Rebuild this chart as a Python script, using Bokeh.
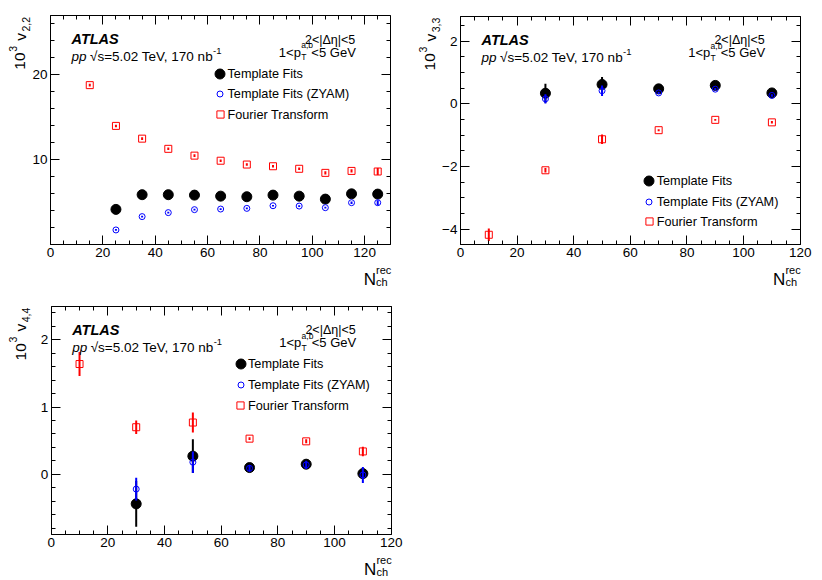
import numpy as np
from bokeh.plotting import figure
from bokeh.models import (Range1d, FixedTicker, LinearAxis, Label, Legend,
                          LegendItem, ColumnDataSource)
from bokeh.layouts import gridplot
from bokeh.embed import file_html
from bokeh.resources import INLINE

FONT = "Liberation Sans"

# ---------------- data ----------------
# Panel 1 : v2,2
x22_fourier = [15, 25, 35, 45, 55, 65, 75, 85, 95, 105, 115, 125]
fourier22 = [18.8, 14.0, 12.5, 11.3, 10.5, 9.9, 9.45, 9.25, 8.95, 8.47, 8.7, 8.63]
fourier22_err = [0.15, 0.15, 0.15, 0.15, 0.15, 0.15, 0.15, 0.15, 0.15, 0.2, 0.2, 0.4]
x22_templ = [25, 35, 45, 55, 65, 75, 85, 95, 105, 115, 125]
templ22 = [4.17, 5.9, 5.9, 5.85, 5.73, 5.66, 5.85, 5.73, 5.38, 6.0, 5.97]
templ22_err = [0.1, 0.1, 0.1, 0.1, 0.1, 0.1, 0.1, 0.1, 0.1, 0.15, 0.2]
zyam22 = [1.75, 3.32, 3.79, 4.14, 4.21, 4.29, 4.6, 4.56, 4.37, 4.96, 4.96]
zyam22_err = [0.1, 0.1, 0.1, 0.1, 0.1, 0.1, 0.1, 0.1, 0.1, 0.15, 0.3]

# Panel 2 : v3,3
x33_templ = [30, 50, 70, 90, 110]
templ33 = [0.34, 0.62, 0.48, 0.59, 0.35]
templ33_err = [0.3, 0.24, 0.05, 0.05, 0.05]
zyam33 = [0.16, 0.42, 0.35, 0.47, 0.27]
zyam33_err = [0.15, 0.17, 0.04, 0.04, 0.04]
x33_fourier = [10, 30, 50, 70, 90, 110]
fourier33 = [-4.18, -2.12, -1.13, -0.84, -0.51, -0.59]
fourier33_err = [0.2, 0.07, 0.15, 0.03, 0.03, 0.04]

# Panel 3 : v4,4
x44_templ = [30, 50, 70, 90, 110]
templ44 = [-0.44, 0.27, 0.10, 0.15, 0.01]
templ44_err = [0.34, 0.25, 0.06, 0.07, 0.07]
zyam44 = [-0.22, 0.18, 0.09, 0.14, -0.01]
zyam44_err = [0.17, 0.16, 0.05, 0.06, 0.12]
x44_fourier = [10, 30, 50, 70, 90, 110]
fourier44 = [1.64, 0.70, 0.77, 0.53, 0.49, 0.34]
fourier44_err = [0.18, 0.10, 0.15, 0.02, 0.03, 0.07]

series_names = ["Template Fits", "Template Fits (ZYAM)", "Fourier Transform"]

BLACK = "#000000"
BLUE = "#0000ff"
RED = "#ff0000"

W, H = 411, 290


def style_axis(ax, ticker, labels=True):
    ax.ticker = ticker
    ax.major_tick_in = 9
    ax.major_tick_out = 0
    ax.minor_tick_in = 4
    ax.minor_tick_out = 0
    ax.axis_line_color = BLACK
    ax.axis_line_width = 1
    ax.major_tick_line_color = BLACK
    ax.minor_tick_line_color = BLACK
    ax.axis_label = None
    if labels:
        ax.major_label_text_font = FONT
        ax.major_label_text_font_size = "13.5px"
        ax.major_label_text_color = BLACK
        ax.major_label_standoff = 3
    else:
        ax.major_label_text_font_size = "0px"
        ax.major_label_text_alpha = 0
        ax.major_label_standoff = 0


def make_panel(box, xr, yr, xmaj, xmin, ymaj, ymin):
    """box = (L, T, R, B) of the data frame inside the figure (pixels)."""
    L, T, R, B = box
    x0, x1 = xr
    y0, y1 = yr
    sx = (x1 - x0) / (R - L)
    sy = (y1 - y0) / (B - T)
    p = figure(width=W, height=H,
               x_range=Range1d(x0 - L * sx, x1 + (W - R) * sx),
               y_range=Range1d(y0 - (H - B) * sy, y1 + T * sy),
               output_backend="svg", toolbar_location=None,
               x_axis_type=None, y_axis_type=None)
    p.min_border = 0
    p.min_border_left = 0
    p.min_border_right = 0
    p.min_border_top = 0
    p.min_border_bottom = 0
    p.xgrid.visible = False
    p.ygrid.visible = False
    p.outline_line_color = None
    p.background_fill_color = "white"
    p.border_fill_color = "white"
    xt = FixedTicker(ticks=xmaj, minor_ticks=xmin)
    yt = FixedTicker(ticks=ymaj, minor_ticks=ymin)
    for loc, lab_on, fl in (("below", True, y0), ("above", False, y1)):
        ax = LinearAxis(fixed_location=fl, bounds=(x0, x1))
        style_axis(ax, xt, lab_on)
        p.add_layout(ax, loc)
    for loc, lab_on, fl in (("left", True, x0), ("right", False, x1)):
        ax = LinearAxis(fixed_location=fl, bounds=(y0, y1))
        style_axis(ax, yt, lab_on)
        p.add_layout(ax, loc)
    return p


def lab(p, x, ytop, text, size, align="left", style="normal",
        angle=0.0, baseline="alphabetic"):
    p.add_layout(Label(x=x, y=H - ytop, x_units="screen", y_units="screen",
                       text=text, text_font=FONT, text_font_size=f"{size}px",
                       text_font_style=style, text_align=align,
                       text_baseline=baseline, text_color=BLACK,
                       angle=angle, angle_units="rad"))


def errbars(p, xs, ys, es, color):
    ys = np.array(ys, dtype=float)
    es = np.array(es, dtype=float)
    src = ColumnDataSource(dict(x=xs, lo=ys - es, hi=ys + es))
    p.segment(x0="x", y0="lo", x1="x", y1="hi", source=src,
              line_color=color, line_width=2)


def add_series(p, xt, yt, et, yz, ez, xf, yf, ef):
    errbars(p, xt, yt, et, BLACK)
    r1 = p.scatter(xt, yt, marker="circle", size=10, fill_color=BLACK,
                   line_color=BLACK)
    errbars(p, xt, yz, ez, BLUE)
    r2 = p.scatter(xt, yz, marker="circle", size=6, fill_color=None,
                   line_color=BLUE, line_width=1)
    errbars(p, xf, yf, ef, RED)
    r3 = p.scatter(xf, yf, marker="square", size=7, fill_color=None,
                   line_color=RED, line_width=1)
    return [r1, r2, r3]


def add_legend(p, renderers, mx, rows, dx=7.5):
    # marker swatch via a Legend (one per entry so each keeps its own size),
    # entry text as a Label
    sizes = [10, 6, 7.2]
    for r, name, my, s in zip(renderers, series_names, rows, sizes):
        gw = int(round(s / 0.4))
        leg = Legend(items=[LegendItem(label=" ", renderers=[r])],
                     location=(mx - gw / 2, H - my - gw / 2),
                     glyph_width=gw, glyph_height=gw, label_height=gw,
                     label_width=0, label_standoff=0, padding=0, spacing=0,
                     margin=0, border_line_alpha=0, background_fill_alpha=0,
                     label_text_font=FONT, label_text_font_size="1px")
        p.add_layout(leg)
        lab(p, mx + dx, my, name, 12.7, baseline="middle")


def add_texts(p, box, sub):
    L, T, R, B = box
    # upper-left block
    lab(p, L + 21, T + 23.5, "ATLAS", 14.5, style="bold italic")
    lab(p, L + 21, T + 41, "pp", 13.5, style="italic")
    lab(p, L + 39.5, T + 41, "\u221as=5.02 TeV, 170 nb", 13.5)
    lab(p, L + 162.5, T + 35.5, "-1", 9.5)
    # upper-right block
    lab(p, R - 35.5, T + 24, "2<|\u0394\u03b7|<5", 12.5, align="right")
    Rt = R - 35
    lab(p, Rt, T + 36.5, "<5 GeV", 13, align="right")
    x0 = Rt - 44.4 - 10.2
    lab(p, x0, T + 29.8, "a,b", 8.5)
    lab(p, x0, T + 41.5, "T", 8.5)
    lab(p, x0 - 0.3, T + 36.5, "1<p", 13, align="right")
    # y title (rotated, reads bottom to top, right-aligned at the top)
    a = np.pi / 2
    bx = L - 30.5
    lab(p, bx + 5.5, T + 1.5, sub, 10.5, align="right", angle=a)
    lab(p, bx, T + 17.5, "v", 15.5, align="right", angle=a)
    lab(p, bx - 7.5, T + 30.5, "3", 10.5, align="right", angle=a)
    lab(p, bx, T + 37, "10", 15.5, align="right", angle=a)
    # x title
    xr = R + 0.5 - 15.3
    lab(p, R + 0.5, B + 25.5, "rec", 11, align="right")
    lab(p, xr, B + 37.5, "ch", 11)
    lab(p, xr, B + 35, "N", 17, align="right")


xmaj = list(range(0, 121, 20))

# ---- panel 1
box1 = (50, 15, 390.3, 244.3)
p1 = make_panel(box1, (0, 130), (0, 27), xmaj, list(np.arange(0, 131, 5)),
                [10, 20], list(np.arange(0, 27, 2)))
r = add_series(p1, x22_templ, templ22, templ22_err, zyam22, zyam22_err,
               x22_fourier, fourier22, fourier22_err)
add_legend(p1, r, 219.5, [73.3, 93.7, 114])
add_texts(p1, box1, "2,2")

# ---- panel 2
box2 = (49, 15.7, 388.7, 244.3)
p2 = make_panel(box2, (0, 120), (-4.5, 2.8), xmaj, list(np.arange(0, 121, 5)),
                [-4, -2, 0, 2], list(np.arange(-4.5, 2.81, 0.5)))
r = add_series(p2, x33_templ, templ33, templ33_err, zyam33, zyam33_err,
               x33_fourier, fourier33, fourier33_err)
add_legend(p2, r, 237.7, [180.7, 201.3, 221.3])
add_texts(p2, box2, "3,3")

# ---- panel 3
box3 = (50.7, 15.7, 390.7, 244.3)
p3 = make_panel(box3, (0, 120), (-0.9, 2.5), xmaj, list(np.arange(0, 121, 5)),
                [0, 1, 2], list(np.round(np.arange(-0.8, 2.41, 0.2), 2)))
r = add_series(p3, x44_templ, templ44, templ44_err, zyam44, zyam44_err,
               x44_fourier, fourier44, fourier44_err)
add_legend(p3, r, 240, [73.7, 94.3, 115])
add_texts(p3, box3, "4,4")

grid = gridplot([[p1, p2], [p3, None]], toolbar_location=None)

open("out.html", "w").write(file_html(grid, INLINE))
